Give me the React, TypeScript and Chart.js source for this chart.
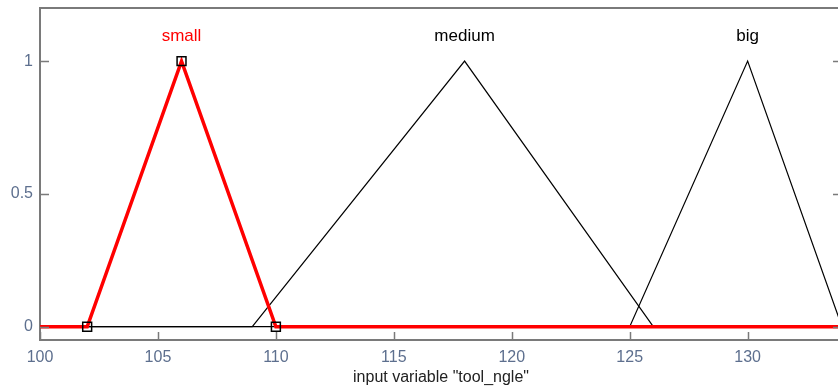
import React, { useEffect, useRef } from "react";
import { Chart, registerables } from "chart.js";

Chart.register(...registerables);

const xTicks = [100, 105, 110, 115, 120, 125, 130];
const yTicks = [0, 0.5, 1];
const smallX = [100, 102, 106, 110, 134];
const smallY = [0, 0, 1, 0, 0];
const smallMarkers = [0, 1, 1, 1, 0];
const mediumX = [100, 109, 118, 126, 134];
const mediumY = [0, 0, 1, 0, 0];
const bigX = [100, 125, 130, 134];
const bigY = [0, 0, 1, 0];
const mfNames = ["small", "medium", "big"];
const mfPeaks = [106, 118, 130];
const mfColors = ["#ff0000", "#000000", "#000000"];
const labelLevel = 1.095;
const axisTitle = 'input variable "tool_ngle"';

const pts = (xs: number[], ys: number[]) => xs.map((x, i) => ({ x, y: ys[i] }));

export default function App() {
  const ref = useRef<HTMLCanvasElement>(null);
  useEffect(() => {
    const axisColor = "#7a7a7a";
    const tickColor = "#5d6f8e";
    const decor = {
      id: "decor",
      afterDraw(chart: any) {
        const ctx = chart.ctx;
        const a = chart.chartArea;
        const xs = chart.scales.x;
        const ys = chart.scales.y;
        ctx.save();
        ctx.strokeStyle = axisColor;
        ctx.lineWidth = 2;
        ctx.beginPath();
        ctx.moveTo(a.left, a.top);
        ctx.lineTo(a.right, a.top);
        ctx.lineTo(a.right, a.bottom);
        ctx.stroke();
        ctx.lineWidth = 1.5;
        xTicks.forEach((v) => {
          const p = Math.round(xs.getPixelForValue(v)) + 0.5;
          ctx.beginPath();
          ctx.moveTo(p, a.bottom);
          ctx.lineTo(p, a.bottom - 8);
          ctx.stroke();
        });
        yTicks.forEach((v) => {
          const p = Math.round(ys.getPixelForValue(v)) + 0.5;
          ctx.beginPath();
          ctx.moveTo(a.left, p);
          ctx.lineTo(a.left + 9, p);
          ctx.moveTo(a.right, p);
          ctx.lineTo(a.right - 9, p);
          ctx.stroke();
        });
        ctx.font = "17px 'Liberation Sans', Arial, sans-serif";
        ctx.textAlign = "center";
        ctx.textBaseline = "middle";
        mfNames.forEach((n, i) => {
          ctx.fillStyle = mfColors[i];
          ctx.fillText(n, xs.getPixelForValue(mfPeaks[i]), ys.getPixelForValue(labelLevel));
        });
        ctx.restore();
      },
    };
    const chart = new Chart(ref.current!, {
      type: "scatter",
      data: {
        datasets: [
          {
            data: pts(bigX, bigY),
            showLine: true,
            borderColor: "#000000",
            borderWidth: 1.2,
            pointRadius: 0,
            order: 3,
          },
          {
            data: pts(mediumX, mediumY),
            showLine: true,
            borderColor: "#000000",
            borderWidth: 1.2,
            pointRadius: 0,
            order: 2,
          },
          {
            data: pts(smallX, smallY),
            showLine: true,
            borderColor: "#ff0000",
            borderWidth: 3.5,
            pointStyle: "rect",
            pointRadius: smallMarkers.map((m) => (m ? 6.3 : 0)),
            pointBorderColor: "#000000",
            pointBackgroundColor: "rgba(255,255,255,0)",
            pointBorderWidth: 1.5,
            order: 1,
          },
        ],
      },
      options: {
        animation: false,
        responsive: false,
        layout: { padding: { top: 8, right: 0, left: 0, bottom: 0 } },
        plugins: { legend: { display: false }, tooltip: { enabled: false } },
        scales: {
          x: {
            type: "linear",
            min: 100,
            max: 134,
            afterBuildTicks: (s: any) => {
              s.ticks = xTicks.map((v) => ({ value: v }));
            },
            afterFit: (s: any) => {
              s.height = 49;
              s.paddingLeft = 0;
              s.paddingRight = 0;
            },
            grid: { display: false, drawTicks: false },
            border: { display: true, color: axisColor, width: 2 },
            ticks: {
              color: tickColor,
              padding: 8,
              maxRotation: 0,
              callback: (v: any) => String(v),
              font: { family: "'Liberation Sans', Arial, sans-serif", size: 16 },
            },
            title: {
              display: true,
              text: axisTitle,
              color: "#222222",
              padding: { top: 0, bottom: 2 },
              font: { family: "'Liberation Sans', Arial, sans-serif", size: 16 },
            },
          },
          y: {
            type: "linear",
            min: -0.05,
            max: 1.2,
            afterBuildTicks: (s: any) => {
              s.ticks = yTicks.map((v) => ({ value: v }));
            },
            afterFit: (s: any) => {
              s.width = 40;
              s.paddingTop = 0;
              s.paddingBottom = 0;
            },
            grid: { display: false, drawTicks: false },
            border: { display: true, color: axisColor, width: 2 },
            ticks: {
              color: tickColor,
              padding: 7,
              callback: (v: any) => String(v),
              font: { family: "'Liberation Sans', Arial, sans-serif", size: 16 },
            },
          },
        },
      },
      plugins: [decor],
    });
    return () => chart.destroy();
  }, []);
  return (
    <div style={{ position: "absolute", left: 0, top: 0, width: 838, height: 389, overflow: "hidden", background: "#fff" }}>
      <canvas ref={ref} width={842} height={389} />
    </div>
  );
}
